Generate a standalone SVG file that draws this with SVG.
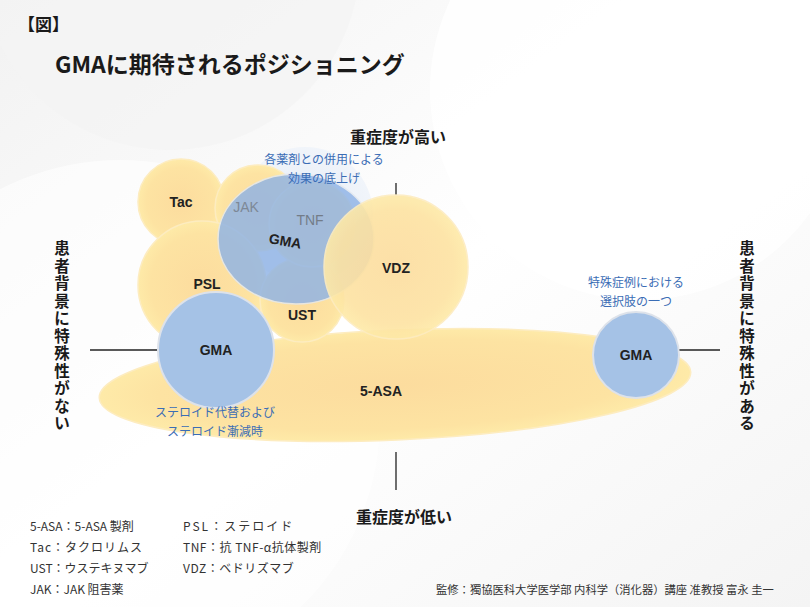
<svg xmlns="http://www.w3.org/2000/svg" width="810" height="607" viewBox="0 0 810 607">
<defs>
<radialGradient id="yel" cx="50%" cy="50%" r="50%">
<stop offset="0" stop-color="#fcdc9e"/>
<stop offset="0.8" stop-color="#fde3a2"/>
<stop offset="1" stop-color="#feeaa8"/>
</radialGradient>
<radialGradient id="halo" cx="50%" cy="50%" r="50%">
<stop offset="0" stop-color="#dfe9f6"/>
<stop offset="1" stop-color="#eef3fa"/>
</radialGradient>
<linearGradient id="bg" x1="0" y1="0" x2="1" y2="1">
<stop offset="0" stop-color="#f2f2f2"/>
<stop offset="0.5" stop-color="#ffffff"/>
<stop offset="1" stop-color="#f4f4f4"/>
</linearGradient>
<style>
.y{fill:url(#yel);stroke:#fdecc0;stroke-width:1.5}
.b{fill:#a5c2e6;stroke:#dde2ea;stroke-width:2}
.t{font-family:"Liberation Sans","Noto Sans CJK JP",sans-serif;fill:#222}
.lb{font-size:14px;font-weight:bold;text-anchor:middle}
.bl{font-family:"Noto Sans CJK JP",sans-serif;fill:#3b6db5;font-size:12px;text-anchor:middle}
.ax{font-family:"Noto Sans CJK JP",sans-serif;fill:#1a1a1a;font-size:16px;font-weight:bold}
.vt{font-family:"Noto Sans CJK JP",sans-serif;fill:#1a1a1a;font-size:15.5px;font-weight:bold;text-anchor:middle}
.lg{font-family:"Noto Sans CJK JP",sans-serif;fill:#333;font-size:12px}
.ln{stroke:#222;stroke-width:1.3}
</style>
</defs>
<rect width="810" height="607" fill="url(#bg)"/>
<circle cx="640" cy="90" r="210" fill="#ffffff" opacity="0.8"/>
<circle cx="170" cy="-40" r="190" fill="#f3f3f3" opacity="0.7"/>
<circle cx="120" cy="420" r="260" fill="#ffffff" opacity="0.6"/>

<g id="connectors">
<line class="ln" x1="396" y1="183" x2="396" y2="195"/>
<line class="ln" x1="396" y1="452" x2="396" y2="490"/>
<line class="ln" x1="90" y1="350" x2="160" y2="350"/>
<line class="ln" x1="678" y1="350" x2="720" y2="350"/>
</g>

<g id="halo"><circle cx="305" cy="215" r="68" fill="url(#halo)" opacity="0.8"/></g>
<g id="asa"><ellipse class="y" cx="395" cy="385" rx="296" ry="55" transform="rotate(-2.5 395 385)"/></g>
<g id="tac"><circle class="y" cx="181" cy="202" r="43"/></g>
<g id="jak"><circle class="y" cx="258" cy="208" r="43"/></g>
<g id="psl"><circle class="y" cx="202" cy="285" r="64"/></g>
<g id="ust"><circle class="y" cx="302" cy="300" r="42"/></g>
<g id="tnf"><circle class="y" cx="312" cy="224" r="43"/></g>
<g id="gma-center"><ellipse cx="296" cy="239" rx="78" ry="65" fill="#8fb3e6" opacity="0.82" stroke="#e3e8ef" stroke-width="1.5"/></g>
<g id="vdz"><circle class="y" cx="396" cy="267" r="72" opacity="0.9"/></g>
<g id="gma-left"><circle class="b" cx="216" cy="350" r="58"/></g>
<g id="gma-right"><circle class="b" cx="636" cy="355" r="43"/></g>

<g id="labels">
<text class="t lb" x="181" y="207">Tac</text>
<text class="t lb" x="246" y="212" style="fill:#7d8896;font-weight:normal">JAK</text>
<text class="t lb" x="310" y="225" style="fill:#737c88;font-weight:normal">TNF</text>
<text class="t lb" x="285" y="246" transform="rotate(10 285 242)">GMA</text>
<text class="t lb" x="207" y="289">PSL</text>
<text class="t lb" x="302" y="320">UST</text>
<text class="t lb" x="396" y="273">VDZ</text>
<text class="t lb" x="216" y="355">GMA</text>
<text class="t lb" x="381" y="396">5-ASA</text>
<text class="t lb" x="636" y="360">GMA</text>
<text class="bl" x="324" y="164">各薬剤との併用による</text>
<text class="bl" x="324" y="183">効果の底上げ</text>
<text class="bl" x="636" y="287">特殊症例における</text>
<text class="bl" x="636" y="306">選択肢の一つ</text>
<text class="bl" x="215" y="417">ステロイド代替および</text>
<text class="bl" x="215" y="436">ステロイド漸減時</text>
</g>

<g id="titles">
<text class="ax" x="18" y="31" style="font-size:17px">【図】</text>
<text class="ax" x="55" y="73" style="font-size:23px">GMAに期待されるポジショニング</text>
<text class="ax" x="398" y="143" text-anchor="middle">重症度が高い</text>
<text class="ax" x="404" y="523" text-anchor="middle">重症度が低い</text>
<text class="vt" x="62" y="254">患</text><text class="vt" x="62" y="271.5">者</text><text class="vt" x="62" y="289">背</text><text class="vt" x="62" y="306.5">景</text><text class="vt" x="62" y="324">に</text><text class="vt" x="62" y="341.5">特</text><text class="vt" x="62" y="359">殊</text><text class="vt" x="62" y="376.5">性</text><text class="vt" x="62" y="394">が</text><text class="vt" x="62" y="411.5">な</text><text class="vt" x="62" y="429">い</text>
<text class="vt" x="747" y="254">患</text><text class="vt" x="747" y="271.5">者</text><text class="vt" x="747" y="289">背</text><text class="vt" x="747" y="306.5">景</text><text class="vt" x="747" y="324">に</text><text class="vt" x="747" y="341.5">特</text><text class="vt" x="747" y="359">殊</text><text class="vt" x="747" y="376.5">性</text><text class="vt" x="747" y="394">が</text><text class="vt" x="747" y="411.5">あ</text><text class="vt" x="747" y="429">る</text>
</g>

<g id="legend">
<text class="lg" x="30" y="531">5-ASA：5-ASA 製剤</text>
<text class="lg" x="30" y="552" letter-spacing="1">Tac：タクロリムス</text>
<text class="lg" x="30" y="573">UST：ウステキヌマブ</text>
<text class="lg" x="30" y="594">JAK：JAK 阻害薬</text>
<text class="lg" x="183" y="531" letter-spacing="2">PSL：ステロイド</text>
<text class="lg" x="183" y="552" letter-spacing="0.5">TNF：抗 TNF-α抗体製剤</text>
<text class="lg" x="183" y="573" letter-spacing="0.5">VDZ：ベドリズマブ</text>
<text class="lg" x="436" y="594" style="font-size:11.3px">監修：獨協医科大学医学部 内科学（消化器）講座 准教授 富永 圭一</text>
</g>
</svg>
